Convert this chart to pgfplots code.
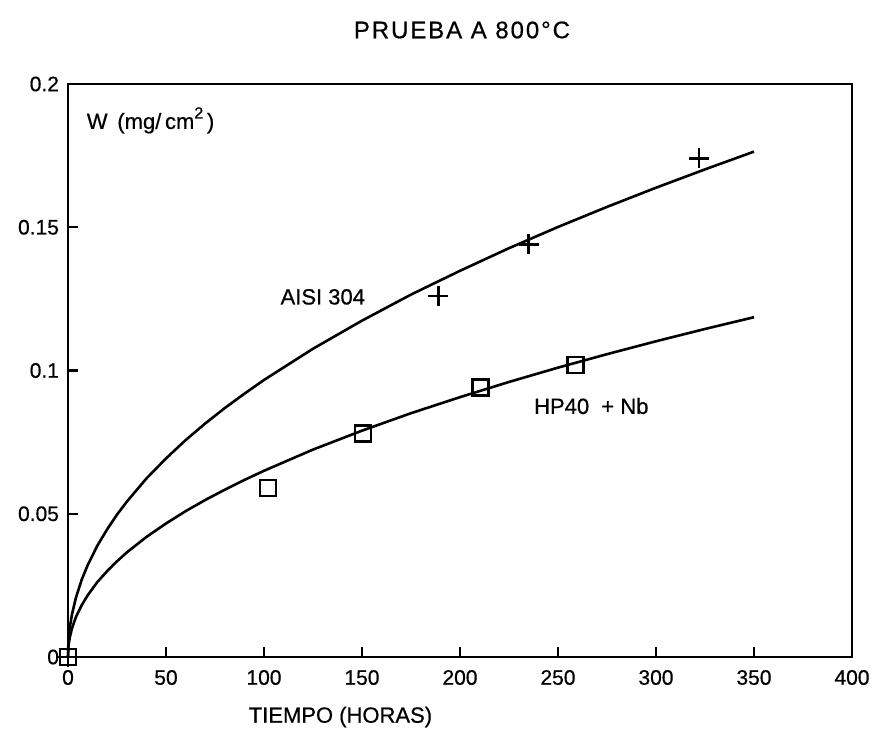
\documentclass[border=0pt]{standalone}
\usepackage{fontspec}
\setmainfont{Liberation Sans}[FakeBold=0.6]
\newfontfamily\spaced{Liberation Sans}[LetterSpace=8,FakeBold=0.6]
\usepackage{pgfplots}
\pgfplotsset{compat=1.18}
\begin{document}
\begin{tikzpicture}
\begin{axis}[
  scale only axis,
  width=392pt, height=286.5pt,
  xmin=0, xmax=400, ymin=0, ymax=0.2,
  xtick={0,50,100,150,200,250,300,350,400},
  xticklabels={0,50,100,150,200,250,300,350,400},
  ytick={0,0.05,0.1,0.15,0.2},
  yticklabels={0,0.05,0.1,0.15,0.2},
  xtick pos=left, ytick pos=left,
  tick align=inside,
  major tick length=5pt,
  tick style={line width=1.2pt, black},
  axis line style={line width=1.4pt},
  ticklabel style={font=\fontsize{10.5}{12}\selectfont},
  xticklabel style={yshift=-3pt},
  yticklabel style={xshift=-1pt},
  clip=false,
]
\addplot[black, line width=1.3pt] coordinates {
(0,0) (0.2,0.0049) (0.5,0.0076) (1,0.0106) (2,0.0148) (4,0.0206) (7,0.0270)
(10,0.0320) (15,0.0389) (20,0.0446) (25,0.0497) (30,0.0542) (40,0.0623)
(50,0.0693) (60,0.0757) (70,0.0815) (80,0.0869) (90,0.0919) (100,0.0967)
(125,0.1076) (150,0.1174) (175,0.1265) (200,0.1348) (225,0.1427) (250,0.1501)
(275,0.1571) (300,0.1638) (325,0.1702) (350,0.1764)};
\addplot[black, line width=1.3pt] coordinates {
(0,0) (0.2,0.0033) (0.5,0.0051) (1,0.0071) (2,0.0099) (4,0.0139) (7,0.0181)
(10,0.0215) (15,0.0262) (20,0.0300) (25,0.0334) (30,0.0365) (40,0.0419)
(50,0.0466) (60,0.0509) (70,0.0548) (80,0.0584) (90,0.0618) (100,0.0650)
(125,0.0724) (150,0.0790) (175,0.0851) (200,0.0907) (225,0.0960) (250,0.1010)
(275,0.1057) (300,0.1102) (325,0.1145) (350,0.1186)};
\addplot[only marks, mark=+, mark size=5pt, black, mark options={line width=1.2pt}] coordinates {
(0,0) (189,0.126) (235,0.144) (322,0.174)};
\addplot[only marks, mark=square, mark size=4pt, black, mark options={line width=1.2pt}] coordinates {
(0,0) (102,0.059) (150.5,0.078) (210.5,0.094) (259,0.102)};
\node[anchor=west, font=\fontsize{11}{13}\selectfont] at (axis cs:6,0.1873) {W \,(mg/\,cm\raisebox{0.9ex}{\fontsize{8}{9}\selectfont 2}\,)};
\node[font=\fontsize{11}{13}\selectfont] at (axis cs:130,0.1257) {AISI 304};
\node[font=\fontsize{11}{13}\selectfont] at (axis cs:267,0.0876) {HP40 \;+ Nb};
\node[font=\fontsize{11}{13}\selectfont] at (axis cs:139,0) [yshift=-30pt] {TIEMPO (HORAS)};
\node[font=\fontsize{12}{14}\selectfont\spaced] at (axis cs:201,0.2) [yshift=27pt] {PRUEBA A 800°C};
\end{axis}
\path (current axis.south west) ++(-34pt,-37pt) rectangle ++(441pt,365.5pt);
\end{tikzpicture}
\end{document}
